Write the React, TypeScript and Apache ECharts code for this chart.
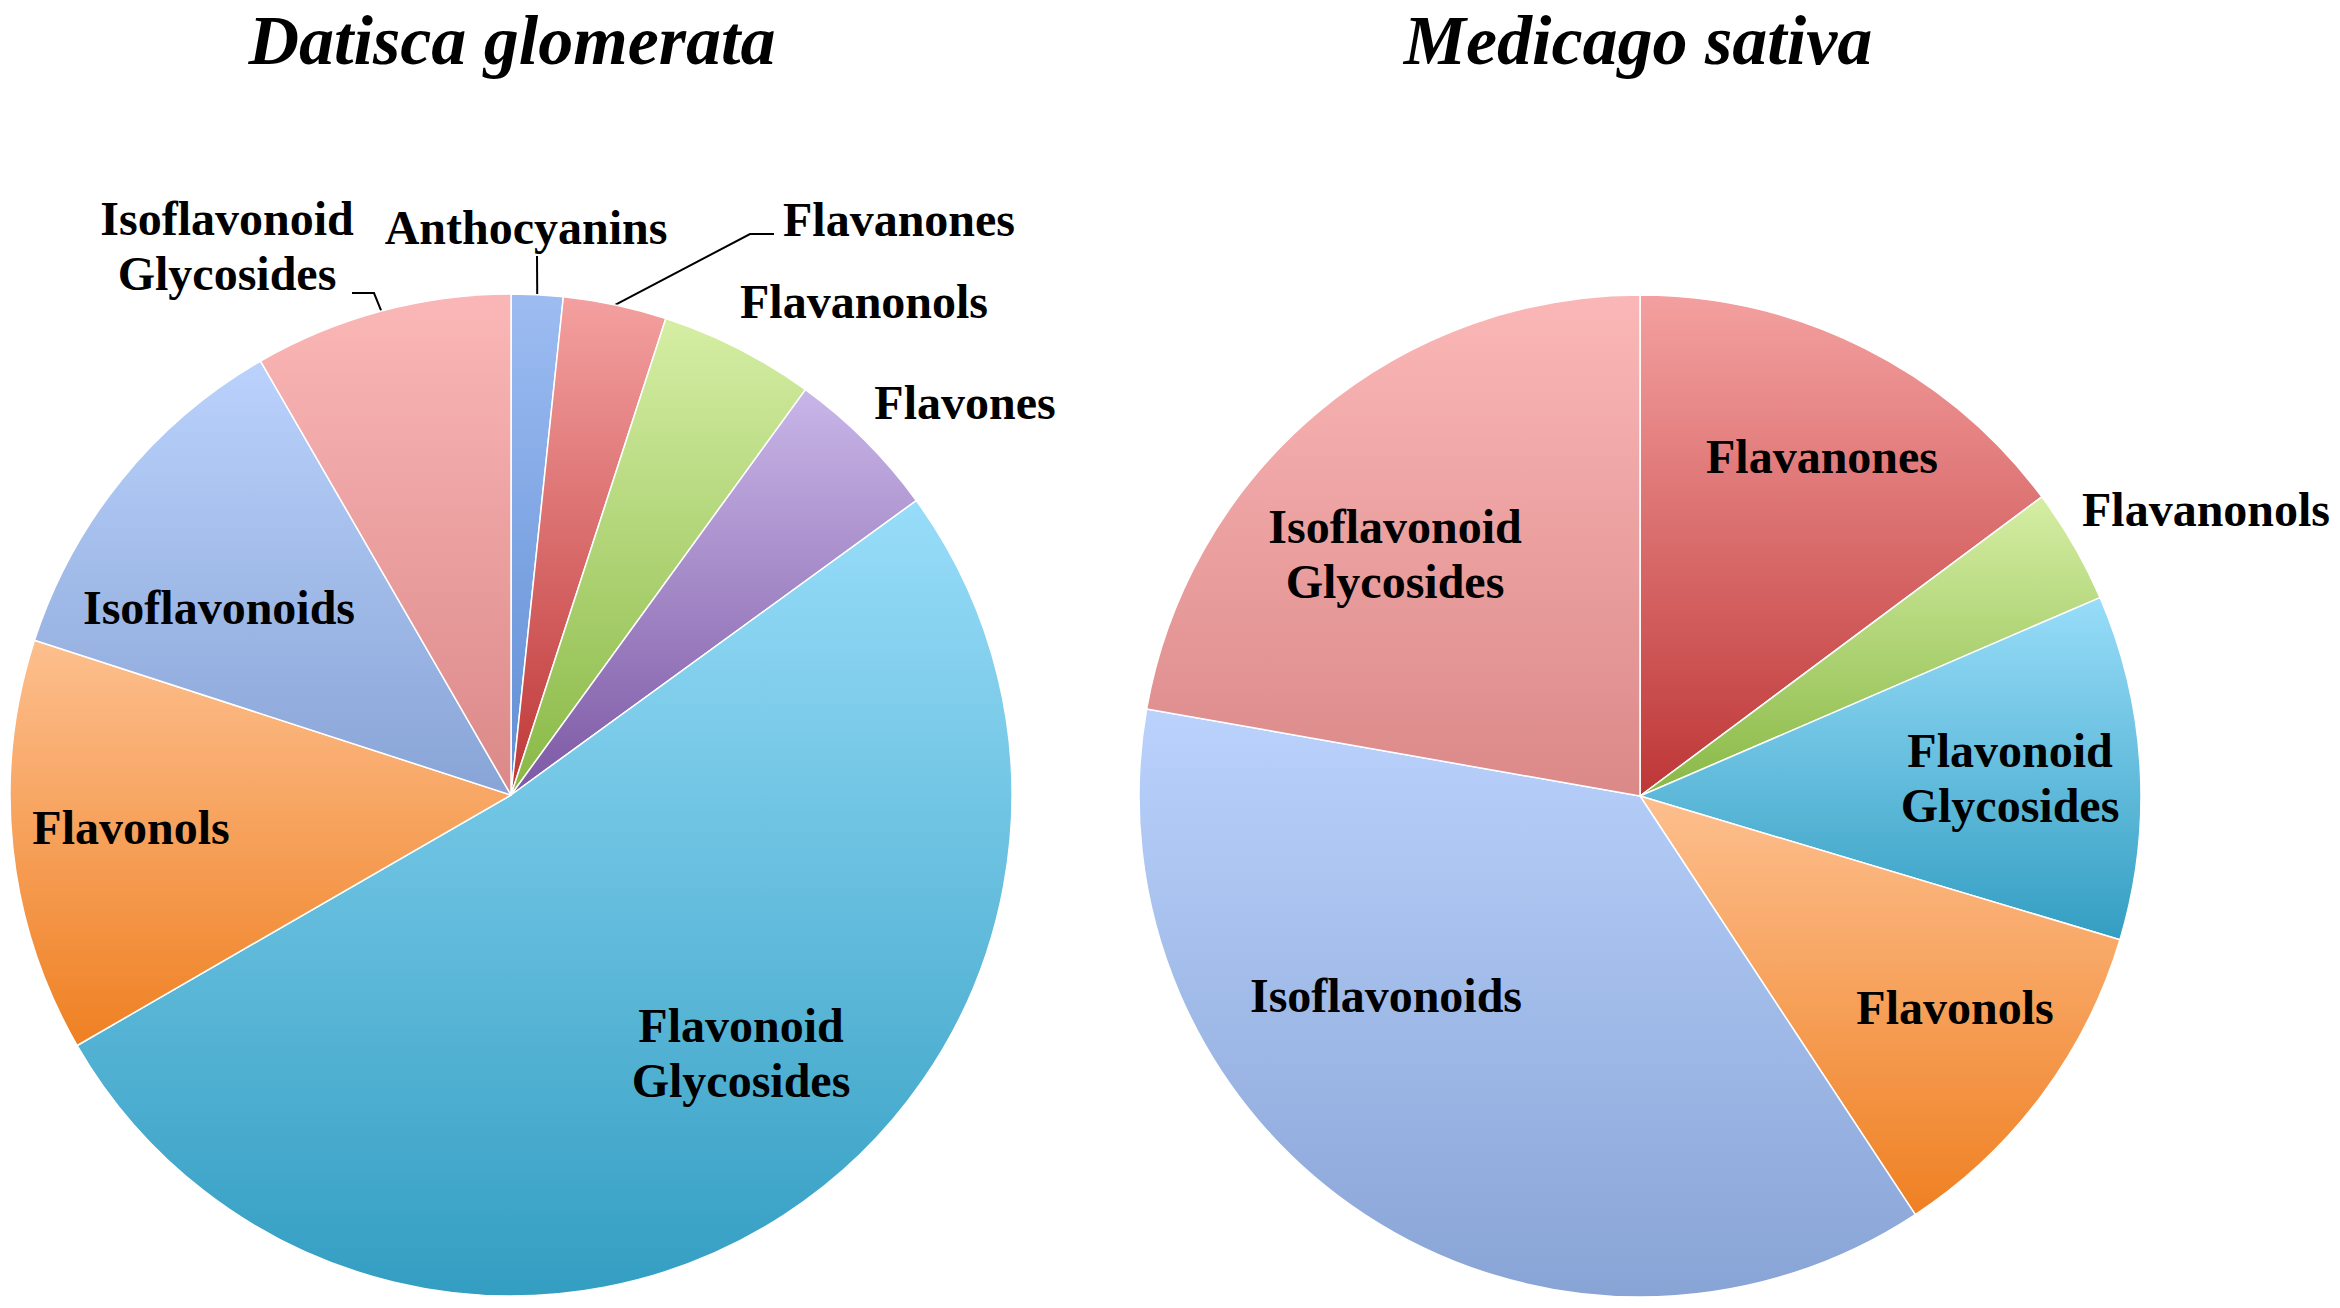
import React, { useEffect, useRef } from "react";
import * as echarts from "echarts";

// ---- Data (number of compounds per class) ----
const TITLES = ["Datisca glomerata", "Medicago sativa"];

const DATISCA_CATEGORIES = [
  "Anthocyanins",
  "Flavanones",
  "Flavanonols",
  "Flavones",
  "Flavonoid Glycosides",
  "Flavonols",
  "Isoflavonoids",
  "Isoflavonoid Glycosides",
];
const DATISCA_VALUES = [1, 2, 3, 3, 31, 8, 7, 5];

const MEDICAGO_CATEGORIES = [
  "Flavanones",
  "Flavanonols",
  "Flavonoid Glycosides",
  "Flavonols",
  "Isoflavonoids",
  "Isoflavonoid Glycosides",
];
const MEDICAGO_VALUES = [4, 1, 3, 3, 10, 6];

// ---- Styles ----
const COLORS: Record<string, [string, string]> = {
  Anthocyanins: ["#9dbcf2", "#5f8ed4"],
  Flavanones: ["#f4a0a0", "#be3636"],
  Flavanonols: ["#d5eea4", "#88b845"],
  Flavones: ["#c9b6e8", "#7c58a4"],
  "Flavonoid Glycosides": ["#98ddf9", "#339ec2"],
  Flavonols: ["#fdbf8e", "#ef8022"],
  Isoflavonoids: ["#bad2fc", "#88a4d6"],
  "Isoflavonoid Glycosides": ["#fbb7b7", "#db8888"],
};

type LabelPos = { x: number; y: number; line?: number[][] };

const DATISCA_LABEL_POS: Record<string, LabelPos> = {
  Anthocyanins: { x: 526, y: 227, line: [[537, 256]] },
  Flavanones: { x: 899, y: 219, line: [[750, 234], [774, 234]] },
  Flavanonols: { x: 864, y: 301 },
  Flavones: { x: 965, y: 402 },
  "Flavonoid Glycosides": { x: 741, y: 1053 },
  Flavonols: { x: 131, y: 827 },
  Isoflavonoids: { x: 219, y: 607 },
  "Isoflavonoid Glycosides": { x: 227, y: 246, line: [[374, 293], [352, 293]] },
};

const MEDICAGO_LABEL_POS: Record<string, LabelPos> = {
  Flavanones: { x: 1822, y: 456 },
  Flavanonols: { x: 2206, y: 509 },
  "Flavonoid Glycosides": { x: 2010, y: 778 },
  Flavonols: { x: 1955, y: 1007 },
  Isoflavonoids: { x: 1386, y: 995 },
  "Isoflavonoid Glycosides": { x: 1395, y: 554 },
};

const FONT = "'Liberation Serif', 'Times New Roman', serif";

function gradient(name: string) {
  const [top, bottom] = COLORS[name];
  return {
    type: "linear",
    x: 0,
    y: 0,
    x2: 0,
    y2: 1,
    colorStops: [
      { offset: 0, color: top },
      { offset: 1, color: bottom },
    ],
  };
}

function buildData(cats: string[], vals: number[], pos: Record<string, LabelPos>) {
  return cats.map((name, i) => ({
    name,
    value: vals[i],
    itemStyle: { color: gradient(name) },
    labelLine: { show: !!pos[name].line },
  }));
}

function makeSeries(
  cats: string[],
  vals: number[],
  pos: Record<string, LabelPos>,
  center: [number, number]
) {
  return {
    type: "pie",
    center,
    radius: 501,
    startAngle: 90,
    clockwise: true,
    avoidLabelOverlap: false,
    silent: true,
    emphasis: { disabled: true },
    itemStyle: { borderColor: "#ffffff", borderWidth: 1.5 },
    label: {
      show: true,
      position: "outside",
      formatter: (p: any) => String(p.name).replace(" Glycosides", "\nGlycosides"),
      fontFamily: FONT,
      fontWeight: "bold",
      fontSize: 48,
      lineHeight: 55,
      color: "#000000",
      align: "center",
    },
    labelLine: {
      show: false,
      lineStyle: { color: "#000000", width: 2 },
    },
    labelLayout: (params: any) => {
      const name = cats[params.dataIndex];
      const p = pos[name];
      const out: any = { x: p.x, y: p.y, align: "center", verticalAlign: "middle" };
      if (p.line && params.labelLinePoints && params.labelLinePoints[0]) {
        const start = params.labelLinePoints[0];
        const pts = [start, ...p.line];
        if (pts.length === 2) pts.push(p.line[0]);
        out.labelLinePoints = pts;
      }
      return out;
    },
    data: buildData(cats, vals, pos),
  };
}

export default function App() {
  const ref = useRef<HTMLDivElement | null>(null);

  useEffect(() => {
    if (!ref.current) return;
    const chart = echarts.init(ref.current, null, { renderer: "svg" });
    const titleStyle = {
      fill: "#000000",
      fontFamily: FONT,
      fontWeight: "bold",
      fontStyle: "italic",
      fontSize: 70,
      align: "center",
      verticalAlign: "middle",
    };
    chart.setOption({
      animation: false,
      backgroundColor: "#ffffff",
      graphic: [
        { type: "text", x: 512, y: 40, style: { ...titleStyle, text: TITLES[0] } },
        { type: "text", x: 1638, y: 40, style: { ...titleStyle, text: TITLES[1] } },
      ],
      series: [
        makeSeries(DATISCA_CATEGORIES, DATISCA_VALUES, DATISCA_LABEL_POS, [511, 795]),
        makeSeries(MEDICAGO_CATEGORIES, MEDICAGO_VALUES, MEDICAGO_LABEL_POS, [1640, 796]),
      ],
    });
    return () => chart.dispose();
  }, []);

  return (
    <div
      ref={ref}
      style={{
        position: "fixed",
        left: 0,
        top: 0,
        width: 2340,
        height: 1308,
        background: "#ffffff",
      }}
    />
  );
}
